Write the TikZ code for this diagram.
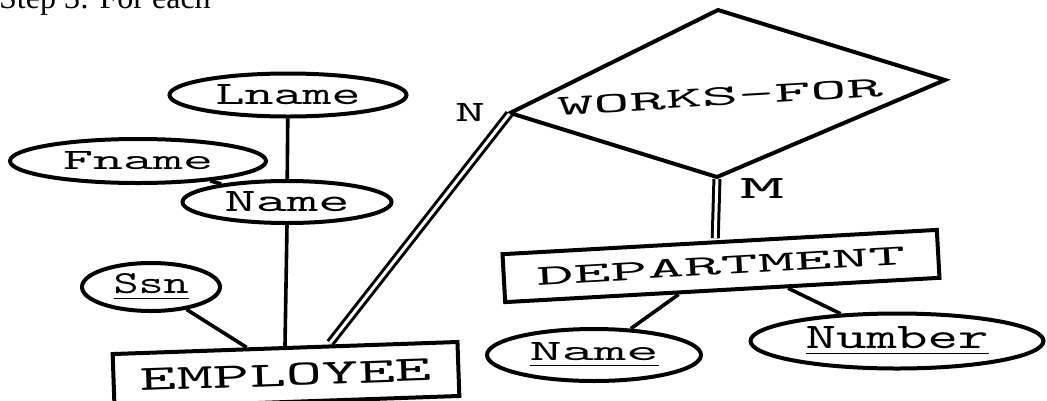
\documentclass[tikz,border=0pt]{standalone}
\usepackage{fontspec}
\newfontfamily\erserif{Liberation Serif}
\usetikzlibrary{shapes.geometric,calc}
\newcommand{\ertxt}[3]{\resizebox{#1pt}{#2pt}{\ttfamily #3}}
\begin{document}
\begin{tikzpicture}[x=1pt,y=-1pt,
  attr/.style={draw, ellipse, line width=4pt, inner sep=0pt},
  ent/.style={draw, rectangle, line width=4pt, inner sep=0pt},
  conn/.style={line width=3.6pt},
  dbl/.style={double, double distance=3pt, line width=3pt},
  lbl/.style={inner sep=0pt}
]
\useasboundingbox (0,0) rectangle (1047,400);
\clip (0,0) rectangle (1047,400);

% cut-off heading line at the top
\node[anchor=base west, inner sep=0pt] (step) at (-1,8) {\erserif\fontsize{32pt}{32pt}\selectfont Step 3: For each};

% attributes
\node[attr, minimum width=237pt, minimum height=43pt] (lname) at (288,95) {\ertxt{145}{20}{Lname}};
\node[attr, minimum width=256pt, minimum height=44pt] (fname) at (138,161) {\ertxt{150}{18}{Fname}};
\node[attr, minimum width=209pt, minimum height=42pt] (nameE) at (287,202) {\ertxt{125}{20}{Name}};
\node[attr, minimum width=138pt, minimum height=48pt] (ssn) at (151,287) {\ertxt{75}{20}{\underline{Ssn}}};
\node[attr, minimum width=214pt, minimum height=52pt] (nameD) at (594,355) {\ertxt{129}{18}{\underline{Name}}};
\node[attr, minimum width=293pt, minimum height=55pt] (number) at (897,341) {\ertxt{183}{22}{\underline{Number}}};

% entities
\node[ent, minimum width=345pt, minimum height=54pt, rotate=2] (emp) at (286,375) {\ertxt{291}{22}{EMPLOYEE}};
\node[ent, minimum width=435pt, minimum height=48pt, rotate=3.2] (dept) at (721,266) {\ertxt{369}{18}{DEPARTMENT}};

% relationship
\coordinate (dl) at (510,113);
\coordinate (dt) at (718,10);
\coordinate (dr) at (945,80);
\coordinate (db) at (717,177);
\draw[line width=4pt, line join=miter] (dl) -- (dt) -- (dr) -- (db) -- cycle;
\node[lbl, rotate=3.3] (wf) at (720,97) {\ertxt{326}{18}{WORKS-FOR}};

% cardinalities
\node[lbl] (nl) at (470,112) {\ertxt{30}{18}{N}};
\node[lbl] (ml) at (762,188) {\ertxt{45}{20}{M}};

% connectors
\draw[conn] (lname) -- (nameE);
\draw[conn] (fname) -- (nameE);
\draw[conn] (nameE.south) -- (emp.north);
\draw[conn] (ssn) -- ($(emp.north west)!0.39!(emp.north east)$);
\draw[dbl, shorten <=2pt, shorten >=1pt] ($(emp.north west)!0.626!(emp.north east)$) -- (dl);
\draw[dbl, shorten <=2pt, shorten >=2pt] (db) -- ($(dept.north west)!0.49!(dept.north east)$);
\draw[conn] ($(dept.south west)!0.40!(dept.south east)$) -- (nameD);
\draw[conn] ($(dept.south west)!0.65!(dept.south east)$) -- (number);
\end{tikzpicture}
\end{document}
